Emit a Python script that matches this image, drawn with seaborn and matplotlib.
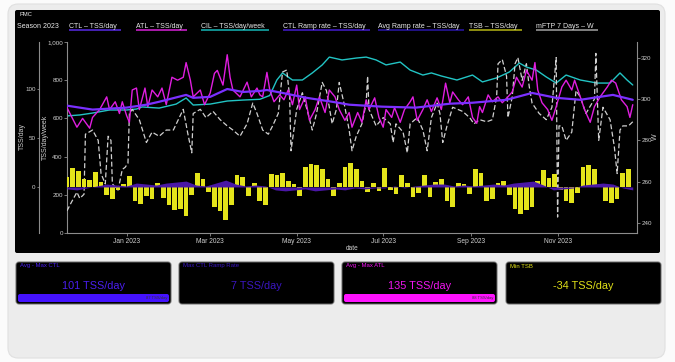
import matplotlib
matplotlib.use("Agg")
import matplotlib.pyplot as plt
import matplotlib.dates as mdates
from matplotlib.patches import FancyBboxPatch
from matplotlib.ticker import FuncFormatter
import pandas as pd
import seaborn as sns

########
# Data #
########

start = pd.Timestamp("2022-11-20")

# CTL (TSS/day), days since start
ctl_day = [0, 18, 42, 56, 65, 84, 89, 101, 113, 124, 136, 141, 152, 169, 187, 199,
           222, 246, 270, 286, 310, 328, 345, 362, 385, 399]
ctl_val = [83, 79, 81, 84, 87, 94, 91, 92, 100, 97, 98, 99, 96, 91, 87, 84,
           82, 81, 85, 86, 89, 96, 91, 89, 94, 89]

# ATL (TSS/day)
atl_day = [0, 7, 11, 16, 18, 23, 28, 30, 34, 37, 39, 42, 44, 46, 49, 51, 55, 57, 60, 64,
           67, 70, 74, 78, 82, 84, 87, 89, 94, 97, 101, 104, 106, 110, 113, 115, 117, 122,
           127, 130, 134, 136, 138, 141, 143, 146, 150, 153, 156, 159, 162, 164, 168, 171,
           175, 178, 182, 185, 189, 192, 196, 199, 201, 205, 208, 211, 213, 217, 220, 223,
           225, 229, 231, 235, 238, 242, 244, 247, 251, 254, 257, 261, 264, 267, 270, 272,
           276, 279, 283, 286, 289, 291, 293, 297, 300, 304, 307, 311, 314, 317, 321, 324,
           328, 330, 332, 335, 339, 342, 345, 349, 352, 356, 358, 362, 365, 369, 372, 376,
           381, 384, 387, 391, 395, 397, 399]
atl_val = [81, 61, 70, 60, 71, 79, 92, 79, 87, 75, 87, 73, 66, 99, 101, 79, 101, 82, 99, 92,
           101, 84, 112, 109, 112, 127, 109, 92, 99, 84, 96, 116, 119, 104, 135, 112, 99, 92,
           107, 92, 101, 94, 92, 117, 99, 87, 94, 89, 99, 84, 104, 79, 92, 68,
           79, 92, 76, 99, 92, 79, 68, 76, 61, 76, 66, 89, 79, 91, 71, 61,
           79, 71, 81, 66, 79, 87, 92, 68, 79, 89, 77, 91, 79, 106, 86, 97,
           89, 84, 92, 71, 65, 82, 76, 94, 87, 92, 86, 92, 97, 112, 102, 119,
           109, 127, 99, 86, 79, 68, 82, 102, 109, 99, 109, 92, 79, 66, 82, 92,
           102, 109, 106, 89, 82, 71, 84]

# CIL (TSS/day/week)
cil_day = [0, 9, 18, 30, 42, 49, 53, 65, 77, 84, 89, 101, 113, 124, 136, 143, 148, 152,
           159, 166, 173, 180, 185, 194, 204, 211, 218, 225, 235, 242, 251, 257, 264, 275,
           286, 293, 303, 312, 319, 324, 331, 338, 345, 352, 362, 374, 383, 390, 395, 399]
cil_val = [613, 618, 628, 644, 644, 649, 660, 654, 675, 707, 670, 675, 691, 696, 700, 720,
           801, 838, 801, 801, 838, 880, 921, 906, 916, 921, 906, 880, 895, 853, 827, 838,
           822, 801, 827, 791, 812, 843, 890, 869, 853, 817, 785, 827, 801, 785, 785, 838,
           801, 775]

# mFTP 7 days (W)
ftp_day = [0, 3, 7, 9, 12, 13, 18, 22, 24, 27, 29, 31, 32, 36, 39, 41, 43, 44, 46, 51,
           56, 60, 65, 70, 75, 82, 85, 88, 89, 94, 98, 103, 108, 113, 117, 122, 127, 131,
           134, 138, 142, 145, 149, 152, 155, 157, 158, 162, 166, 170, 173, 176, 180, 183,
           187, 190, 192, 196, 199, 201, 204, 208, 211, 212, 213, 218, 223, 228, 230, 232,
           237, 240, 242, 247, 251, 254, 257, 261, 263, 265, 268, 272, 279, 284, 287, 291,
           296, 300, 303, 304, 307, 310, 311, 314, 316, 318, 321, 324, 326, 328, 333, 338,
           342, 345, 346, 347, 349, 352, 356, 359, 362, 366, 372, 373, 375, 378, 383, 386,
           388, 390, 392, 396, 399]
ftp_val = [246, 250, 255, 252, 254, 283, 285, 280, 264, 259, 282, 280, 259, 256, 266, 267,
           269, 293, 295, 290, 279, 284, 282, 285, 285, 295, 284, 274, 293, 295, 291, 294,
           290, 287, 285, 282, 288, 298, 293, 285, 283, 287, 293, 313, 314, 301, 275, 295,
           303, 293, 285, 293, 308, 304, 288, 295, 308, 296, 285, 275, 282, 288, 298, 311,
           295, 287, 291, 288, 279, 288, 284, 274, 288, 291, 285, 275, 291, 298, 293, 279,
           287, 296, 294, 291, 288, 290, 289, 290, 301, 317, 319, 311, 291, 301, 317, 320,
           309, 317, 306, 298, 293, 290, 296, 320, 243, 287, 287, 280, 284, 304, 301, 293,
           300, 322, 280, 296, 290, 277, 264, 285, 287, 287, 289]

# TSB (TSS/day), every 4 days
tsb_val = [10, 19, 16, 8, 7, 15, 5, -8, -12, -3,
           3, 11, -14, -17, -9, -12, 4, -11, -18, -24,
           -22, -30, -8, 14, 8, -5, -20, -25, -34, -18,
           12, 10, -9, 4, -14, -18, 13, 12, 14, 6,
           3, -9, 20, 23, 22, 18, 8, -9, 4, 20,
           24, 18, 6, -5, 4, -4, 19, -3, -7, 12,
           4, -10, -6, 12, -10, 5, 8, -14, -20, 4,
           3, -7, 18, 14, -14, -12, 4, 6, -8, -22,
           -28, -24, -20, 6, 17, 9, 13, -3, -14, -16,
           -6, 20, 22, 18, 3, -14, -16, -12, 14, 18]

# CTL ramp rate (TSS/day), weekly
ramp_val = [-2, -3, -1, 1, 3, 2, 1, 4, 3, 2,
            4, 5, 6, 2, 1, 4, 7, 3, 1, 2,
            1, -3, -4, -3, -2, -4, -3, -2, -3, -1,
            -2, -1, -1, 1, -1, 1, 2, 3, 3, 1,
            2, 1, 2, 3, 2, 4, 5, 6, 2, -3,
            -2, -1, 2, 3, 4, 3, -1, -3]

legend_labels = ["Season 2023", "CTL \u2013 TSS/day", "ATL \u2013 TSS/day", "CIL \u2013 TSS/day/week",
                 "CTL Ramp rate \u2013 TSS/day", "Avg Ramp rate \u2013 TSS/day", "TSB \u2013 TSS/day",
                 "mFTP 7 Days \u2013 W"]
legend_colors = [None, "#4b24c4", "#b81cb8", "#129c9c", "#3a18b0", "#24138f", "#9a9a12", "#8a8a8a"]
legend_x = [17, 69, 136, 201, 283, 378, 469, 536]

kpi_titles = ["Avg - Max CTL", "Max CTL Ramp Rate", "Avg - Max ATL", "Min TSB"]
kpi_values = ["101 TSS/day", "7 TSS/day", "135 TSS/day", "-34 TSS/day"]
kpi_avg = ["87 TSS/day", None, "88 TSS/day", None]
kpi_colors = ["#4a1ef0", "#3a16c0", "#f014f0", "#e0e018"]
kpi_bar_colors = ["#4412ff", None, "#ff12ff", None]

to_dates = lambda days: start + pd.to_timedelta(days, unit="D")
ctl_dates = to_dates(ctl_day)
atl_dates = to_dates(atl_day)
cil_dates = to_dates(cil_day)
ftp_dates = to_dates(ftp_day)
tsb_dates = pd.date_range(start, periods=len(tsb_val), freq="4D")
ramp_dates = pd.date_range(start, periods=len(ramp_val), freq="7D")

#########
# Setup #
#########

sns.set_theme(style="ticks")
plt.rcParams["font.family"] = ["Liberation Sans", "DejaVu Sans"]

W, H = 675, 362
fig = plt.figure(figsize=(W / 100, H / 100), dpi=100, facecolor="#fbfbfb")

# full-figure pixel canvas for the dashboard frame
bg = fig.add_axes([0, 0, 1, 1], zorder=-1)
bg.set_xlim(0, W)
bg.set_ylim(H, 0)
bg.axis("off")

bg.add_patch(FancyBboxPatch((8, 4), 657, 354, boxstyle="round,pad=0,rounding_size=10",
                            fc="#ececec", ec="#e0e0e0", lw=0.8))
bg.add_patch(FancyBboxPatch((15, 10), 645, 243, boxstyle="round,pad=0,rounding_size=2",
                            fc="black", ec="none"))


def frac(x0, y0, x1, y1):
    return [x0 / W, 1 - y1 / H, (x1 - x0) / W, (y1 - y0) / H]


ax = fig.add_axes(frac(67, 42, 637, 233))
ax.set_facecolor("none")
ax_w = ax.twinx()
ax_t = ax.twinx()
ax_w.set_zorder(1)
ax_t.set_zorder(2)

spine_c = "#8c8c8c"
tick_c = "#cfcfcf"
for a in (ax, ax_w, ax_t):
    for s in a.spines.values():
        s.set_visible(False)
        s.set_color(spine_c)
        s.set_linewidth(0.8)

#########
# Plots #
#########

# CIL on the TSS/day/week axis
sns.lineplot(x=cil_dates, y=cil_val, ax=ax, color="#22c4c4", linewidth=1.0,
             estimator=None, sort=False)

# mFTP on the W axis
sns.lineplot(x=ftp_dates, y=ftp_val, ax=ax_w, color="#d0d0d0", linewidth=0.9,
             linestyle=(0, (4, 2)), estimator=None, sort=False)

# TSB bars, ramp area, ATL and CTL on the TSS/day axis
ax_t.bar(tsb_dates, tsb_val, width=3.3, color="#e4e41a", linewidth=0, zorder=2)
ax_t.fill_between(ramp_dates, 0, ramp_val, color="#4a17a6", linewidth=0, zorder=3)
sns.lineplot(x=atl_dates, y=atl_val, ax=ax_t, color="#e01ee0", linewidth=1.0,
             estimator=None, sort=False, zorder=4)
sns.lineplot(x=ctl_dates, y=ctl_val, ax=ax_t, color="#7a30ff", linewidth=1.6,
             estimator=None, sort=False, zorder=5)

########
# Axes #
########

ax.set_xlim(start, start + pd.Timedelta(days=402))
ax.xaxis.set_major_locator(mdates.MonthLocator(bymonth=[1, 3, 5, 7, 9, 11]))
ax.xaxis.set_major_formatter(mdates.DateFormatter("%b %Y"))
ax.spines["bottom"].set_visible(True)
ax.spines["left"].set_visible(True)
ax.tick_params(axis="x", labelsize=4.8, colors=spine_c, labelcolor=tick_c,
               length=2, width=0.6, pad=1.5)

ax.set_ylim(0, 1000)
ax.set_yticks([0, 200, 400, 600, 800, 1000])
ax.yaxis.set_major_formatter(FuncFormatter(lambda v, p: f"{int(v):,}"))
ax.tick_params(axis="y", labelsize=4.5, colors=spine_c, labelcolor=tick_c,
               length=2, width=0.6, pad=1)

ax_t.set_ylim(-47, 148)
ax_t.set_yticks([0, 50, 100])
ax_t.yaxis.tick_left()
ax_t.spines["left"].set_visible(True)
ax_t.spines["left"].set_position(("outward", 20.2))
ax_t.tick_params(axis="y", labelsize=4.5, colors=spine_c, labelcolor=tick_c,
                 length=1.5, width=0.6, pad=1)

ax_w.set_ylim(235.3, 327.5)
ax_w.set_yticks([240, 260, 280, 300, 320])
ax_w.spines["right"].set_visible(True)
ax_w.tick_params(axis="y", labelsize=4.5, colors=spine_c, labelcolor=tick_c,
                 length=2, width=0.6, pad=1)

for a in (ax, ax_w, ax_t):
    a.set_xlabel("")
    a.set_ylabel("")

bg.text(22, 137, "TSS/day", rotation=90, ha="center", va="center", fontsize=5, color=tick_c)
bg.text(45, 137, "TSS/day/week", rotation=90, ha="center", va="center", fontsize=5, color=tick_c)
bg.text(655, 137, "W", rotation=90, ha="center", va="center", fontsize=5, color=tick_c)
bg.text(352, 248, "date", ha="center", va="center", fontsize=4.7, color=tick_c)
bg.text(20, 15, "PMC", ha="left", va="center", fontsize=4.2, color="#f0f0f0")

##########
# Legend #
##########

legend_texts = []
for lab, xpos in zip(legend_labels, legend_x):
    legend_texts.append(bg.text(xpos, 26, lab, ha="left", va="center",
                                fontsize=5, color="#e8e8e8"))

fig.canvas.draw()
rend = fig.canvas.get_renderer()
for t, col in zip(legend_texts, legend_colors):
    if col is None:
        continue
    bb = t.get_window_extent(rend)
    bg.plot([bb.x0, bb.x1 + 4], [30, 30], color=col, lw=1.3, solid_capstyle="butt")

#########
# Cards #
#########

card_x = [(16, 171), (179, 334), (342, 497), (506, 661)]
for (x0, x1), title, val, avg, col, bcol in zip(card_x, kpi_titles, kpi_values, kpi_avg,
                                                kpi_colors, kpi_bar_colors):
    bg.add_patch(FancyBboxPatch((x0, 262), x1 - x0, 42, boxstyle="round,pad=0,rounding_size=3",
                                fc="black", ec="#6a6a6a", lw=0.7))
    bg.text(x0 + 4, 266, title, ha="left", va="center", fontsize=4.3, color=col)
    bg.text((x0 + x1) / 2, 286, val, ha="center", va="center", fontsize=7.8, color=col)
    if bcol is not None:
        bg.add_patch(FancyBboxPatch((x0 + 2, 294), x1 - x0 - 4, 8,
                                    boxstyle="round,pad=0,rounding_size=2", fc=bcol, ec="none"))
        bg.text(x1 - 4, 298.2, avg, ha="right", va="center", fontsize=3, color="#333333")

fig.savefig("out.png", dpi=100, facecolor=fig.get_facecolor())
